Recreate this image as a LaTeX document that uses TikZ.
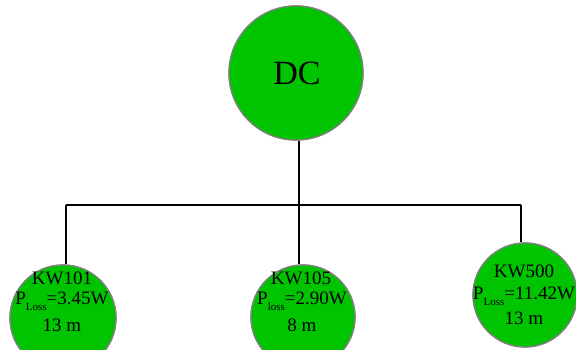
\documentclass[tikz,border=0pt]{standalone}
\usepackage{fontspec}
\setmainfont{Liberation Serif}
\begin{document}
\begin{tikzpicture}[x=1pt,y=1pt,
  bubble/.style={circle,draw={rgb,255:red,128;green,128;blue,128},line width=1.3pt,fill={rgb,255:red,0;green,196;blue,0},inner sep=0pt},
  wire/.style={draw=black,line width=1.4pt},
  lbl/.style={anchor=base,inner sep=0pt,font=\fontsize{19}{19}\selectfont}]
\clip (0,0) rectangle (576,350);
\coordinate (j1) at (66,145);
\coordinate (j2) at (299,145);
\coordinate (j3) at (521,145);
\node[bubble,minimum size=134pt] (dc) at (296,277) {};
\node[bubble,minimum size=106pt] (k1) at (63,32) {};
\node[bubble,minimum size=104pt] (k2) at (303,33) {};
\node[bubble,minimum size=104pt] (k3) at (525,55) {};
\draw[wire] (j1) -- (j3);
\draw[wire] (j2) -- (j2 |- dc.south);
\draw[wire] (j1) -- (j1 |- k1.north);
\draw[wire] (j2) -- (j2 |- k2.north);
\draw[wire] (j3) -- (j3 |- k3.north);
% redraw circles over line ends
\node[bubble,minimum size=134pt] at (dc) {};
\node[bubble,minimum size=106pt] at (k1) {};
\node[bubble,minimum size=104pt] at (k2) {};
\node[bubble,minimum size=104pt] at (k3) {};
% texts
\node[anchor=base,inner sep=0pt,font=\fontsize{34}{34}\selectfont] (tdc) at (297,265) {DC};
\node[lbl] (t1a) at (62,65) {KW101};
\node[lbl] (t1b) at (62,45) {P\raisebox{-6pt}{\fontsize{11}{11}\selectfont Loss}=3.45W};
\node[lbl] (t1c) at (62,18) {13 m};
\node[lbl] (t2a) at (301,65) {KW105};
\node[lbl] (t2b) at (302,45) {P\raisebox{-6pt}{\fontsize{11}{11}\selectfont loss}=2.90W};
\node[lbl] (t2c) at (302,18) {8 m};
\node[lbl] (t3a) at (524,72) {KW500};
\node[lbl] (t3b) at (524,50) {P\raisebox{-6pt}{\fontsize{11}{11}\selectfont Loss}=11.42W};
\node[lbl] (t3c) at (524,25) {13 m};
\end{tikzpicture}
\end{document}
